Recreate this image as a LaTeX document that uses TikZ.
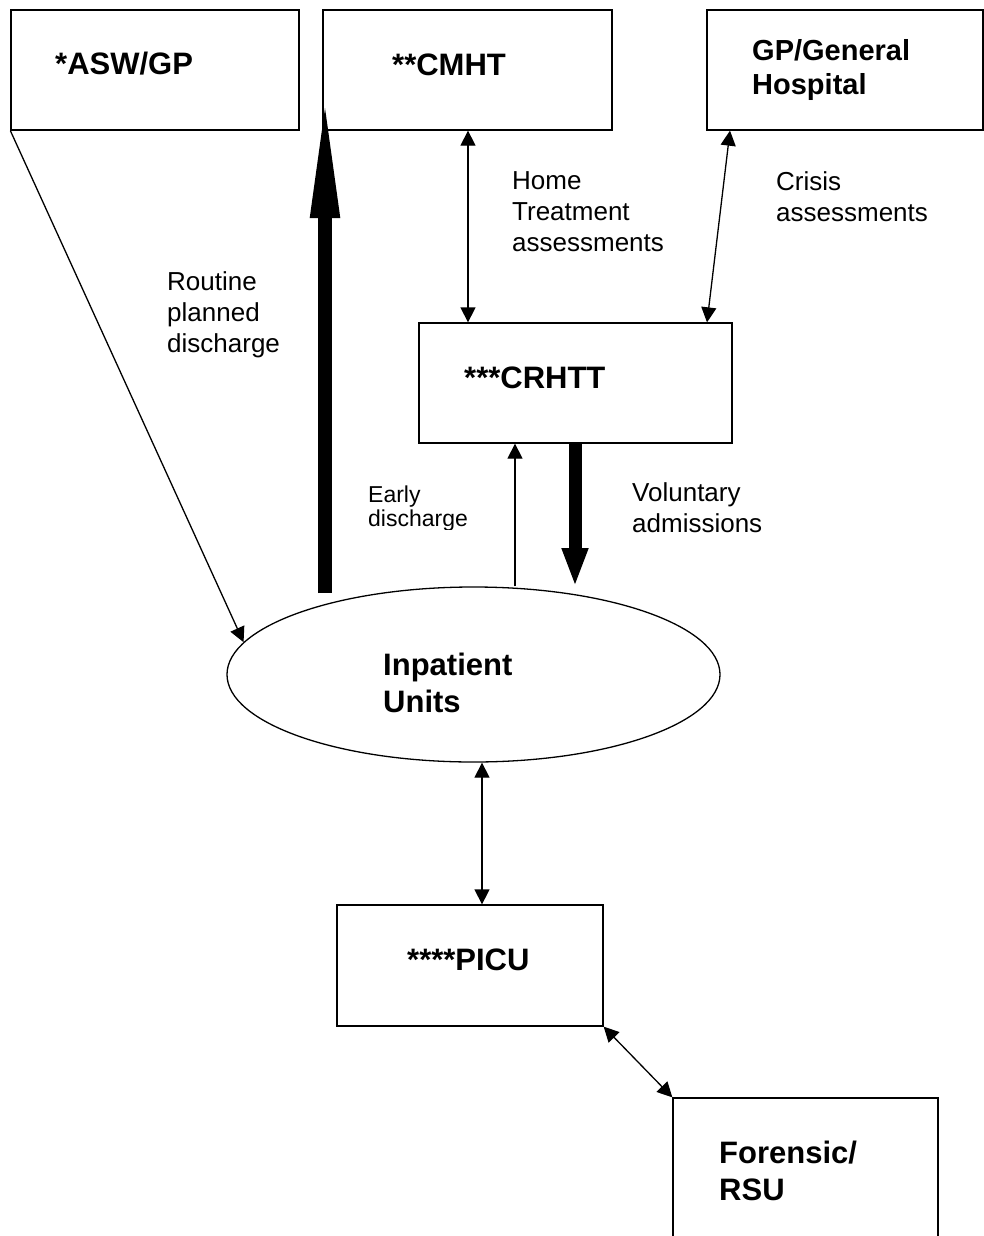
\documentclass[tikz,border=0pt]{standalone}
\usepackage{fontspec}
\setmainfont{Liberation Sans}
\usetikzlibrary{arrows.meta,shapes.geometric}
\tikzset{
  unit/.style={draw,line width=1.3pt,inner sep=0pt},
  link/.style={line width=1.3pt},
  flowlbl/.style={anchor=base west,inner sep=0pt,align=left,font=\fontsize{26}{31}\selectfont},
  unitlbl/.style={anchor=base west,inner sep=0pt,align=left,font=\fontsize{31}{37}\selectfont\bfseries},
}
\begin{document}
\begin{tikzpicture}[x=1pt,y=-1pt,>={Triangle[width=15pt,length=15pt]}]
  \useasboundingbox (0,0) rectangle (984,1236);
  \clip (0,0) rectangle (984,1236);
  \node[unit,minimum width=288pt,minimum height=120pt] (asw) at (155,70) {};
  \node[unit,minimum width=289pt,minimum height=120pt] (cmht) at (467.5,70) {};
  \node[unit,minimum width=276pt,minimum height=120pt] (gp) at (845,70) {};
  \node[unit,minimum width=313pt,minimum height=120pt] (crhtt) at (575.5,383) {};
  \node[unit,ellipse,minimum width=493pt,minimum height=175pt] (inp) at (473.5,674.5) {};
  \node[unit,minimum width=266pt,minimum height=121pt] (picu) at (470,965.5) {};
  \node[unit,minimum width=265pt,minimum height=240pt] (forensic) at (805.5,1218) {};
  \node[unitlbl] (aswT) at (55,75) {*ASW/GP};
  \node[unitlbl] (cmhtT) at (392,76) {**CMHT};
  \node[unitlbl,font=\fontsize{29}{34}\selectfont\bfseries] (gpT) at (752,95) {GP/General\\Hospital};
  \node[unitlbl] (crhttT) at (464,388) {***CRHTT};
  \node[unitlbl] (inpT) at (383,712) {Inpatient\\Units};
  \node[unitlbl] (picuT) at (407,970) {****PICU};
  \node[unitlbl] (forensicT) at (719,1200) {Forensic/\\RSU};
  \node[flowlbl] (homeT) at (512,251) {Home\\Treatment\\assessments};
  \node[flowlbl] (crisisT) at (776,221) {Crisis\\assessments};
  \node[flowlbl] (routineT) at (167,352) {Routine\\planned\\discharge};
  \begin{scope}
    \clip (360,470) rectangle (480,529);
    \node[flowlbl,font=\fontsize{23}{24}\selectfont] (earlyT) at (368,526) {Early\\discharge};
  \end{scope}
  \node[flowlbl] (volT) at (632,532) {Voluntary\\admissions};
  \coordinate (dtail) at (325,593);
  \coordinate (dtip) at (325,89);
  \coordinate (vtip) at (575,587);
  \draw[line width=14pt,-{Triangle[width=26pt,length=129pt]}] (dtail) -- (dtip);
  \draw[line width=13pt,-{Triangle[width=24pt,length=39pt]}] (crhtt.south -| vtip) -- (vtip);
  \draw[link,->] (asw.south west) -- (inp.172);
  \draw[link,<->] (468,0 |- cmht.south) -- (468,0 |- crhtt.north);
  \draw[link,<->] (730,0 |- gp.south) -- (707,0 |- crhtt.north);
  \draw[link,->] (515,0 |- inp.north) -- (515,0 |- crhtt.south);
  \draw[link,<->] (482,0 |- inp.south) -- (482,0 |- picu.north);
  \draw[link,<->] (picu.south east) -- (forensic.north west);
\end{tikzpicture}
\end{document}
